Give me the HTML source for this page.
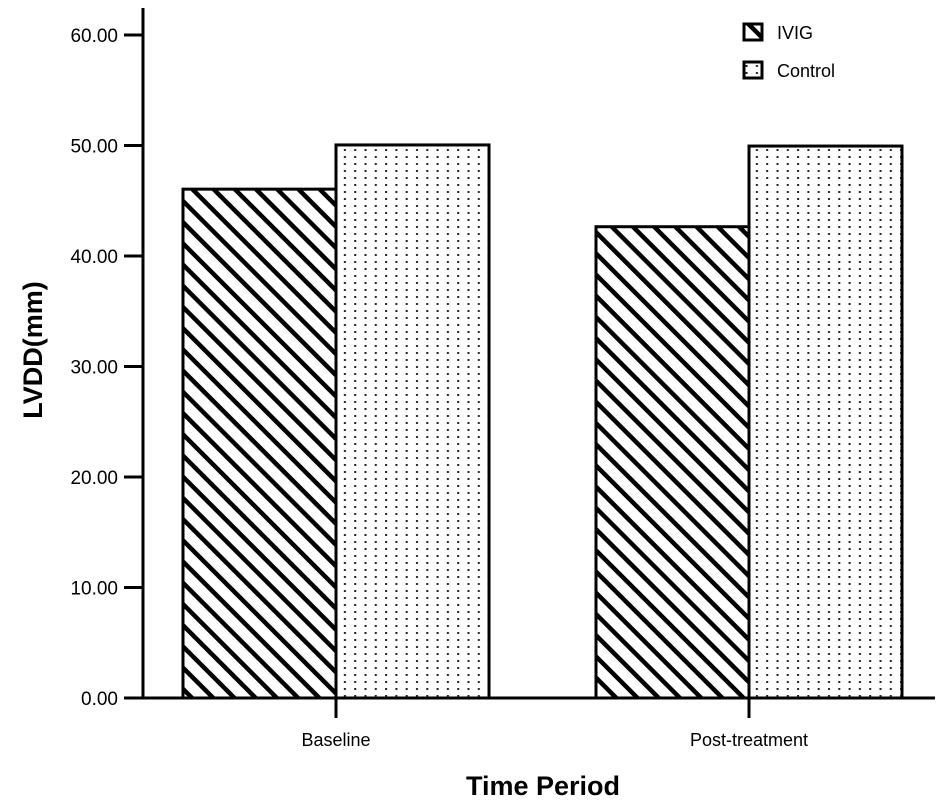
<!DOCTYPE html>
<html><head><meta charset="utf-8"><style>
html,body{margin:0;padding:0;background:#fff;}
svg{display:block;font-family:"Liberation Sans",Arial,sans-serif;}
</style></head><body>
<svg id="chart" width="945" height="808" viewBox="0 0 945 808">
<defs>
<pattern id="hatch" patternUnits="userSpaceOnUse" width="15" height="15" patternTransform="rotate(-45)">
<rect x="0" y="0" width="15" height="15" fill="#fff"/>
<line x1="0" y1="0" x2="0" y2="15" stroke="#000" stroke-width="9"/>
</pattern>
<pattern id="dots" patternUnits="userSpaceOnUse" width="10.3" height="7">
<rect x="0" y="0" width="10.3" height="7" fill="#fff"/>
<rect x="4" y="2" width="2" height="2" fill="#222"/>
</pattern>
</defs>
<g id="axes"></g>
<g id="bars"></g>
<g id="legend">
<rect x="744" y="24" width="18" height="16" fill="url(#hatch)" stroke="#000" stroke-width="3"/>
<text x="777" y="39" font-size="18">IVIG</text>
<rect x="744" y="62" width="18" height="16" fill="url(#dots)" stroke="#000" stroke-width="3"/>
<text x="777" y="77" font-size="18">Control</text>
</g>
<text x="543" y="795" font-size="27" font-weight="bold" text-anchor="middle">Time Period</text>
<text transform="translate(42,350) rotate(-90)" font-size="27" font-weight="bold" text-anchor="middle">LVDD(mm)</text>
</svg>
<script>
const categories = ["Baseline", "Post-treatment"];
const ivigValues = [46.05, 42.65];
const controlValues = [50.05, 49.95];
const yTicks = [0, 10, 20, 30, 40, 50, 60];
const yTickLabels = ["0.00","10.00","20.00","30.00","40.00","50.00","60.00"];

const NS = "http://www.w3.org/2000/svg";
const y0 = 698, pxPerUnit = 11.05;
function yScale(v){ return y0 - v * pxPerUnit; }
const groupCenters0 = 336, groupStep = 413, barW = 153;
function xCenter(i){ return groupCenters0 + i * groupStep; }
function mk(tag, attrs, parent){ const e = document.createElementNS(NS, tag); for (const k in attrs) e.setAttribute(k, attrs[k]); parent.appendChild(e); return e; }

const axes = document.getElementById("axes");
let yl = mk("line", {x1:143,y1:8,x2:143,y2:y0,stroke:"#000","stroke-width":3}, axes);


let xl = mk("line", {x1:141.5,y1:y0,x2:935,y2:y0,stroke:"#000","stroke-width":3}, axes);


yTicks.forEach((t, i) => {
  const y = yScale(t);
  const tk = mk("line", {x1:124,y1:y,x2:143,y2:y,stroke:"#000","stroke-width":3}, axes);
  
  
  const tx = mk("text", {x:118,y:y+7,"font-size":19,"text-anchor":"end"}, axes);
  tx.textContent = yTickLabels[i];
  
  
});
categories.forEach((c, i) => {
  const x = xCenter(i);
  const tk = mk("line", {x1:x,y1:y0,x2:x,y2:718,stroke:"#000","stroke-width":3}, axes);
  
  
  const tx = mk("text", {x:x,y:746,"font-size":18,"text-anchor":"middle"}, axes);
  tx.textContent = c;
  
  
});
const bars = document.getElementById("bars");
categories.forEach((c, i) => {
  const x = xCenter(i);
  const b1 = mk("rect", {x:x-barW, y:yScale(ivigValues[i]), width:barW, height:y0-yScale(ivigValues[i]), fill:"url(#hatch)", stroke:"#000","stroke-width":3}, bars);
  
  
  const b2 = mk("rect", {x:x, y:yScale(controlValues[i]), width:barW, height:y0-yScale(controlValues[i]), fill:"url(#dots)", stroke:"#000","stroke-width":3}, bars);
  
  
});
</script>
</body></html>
